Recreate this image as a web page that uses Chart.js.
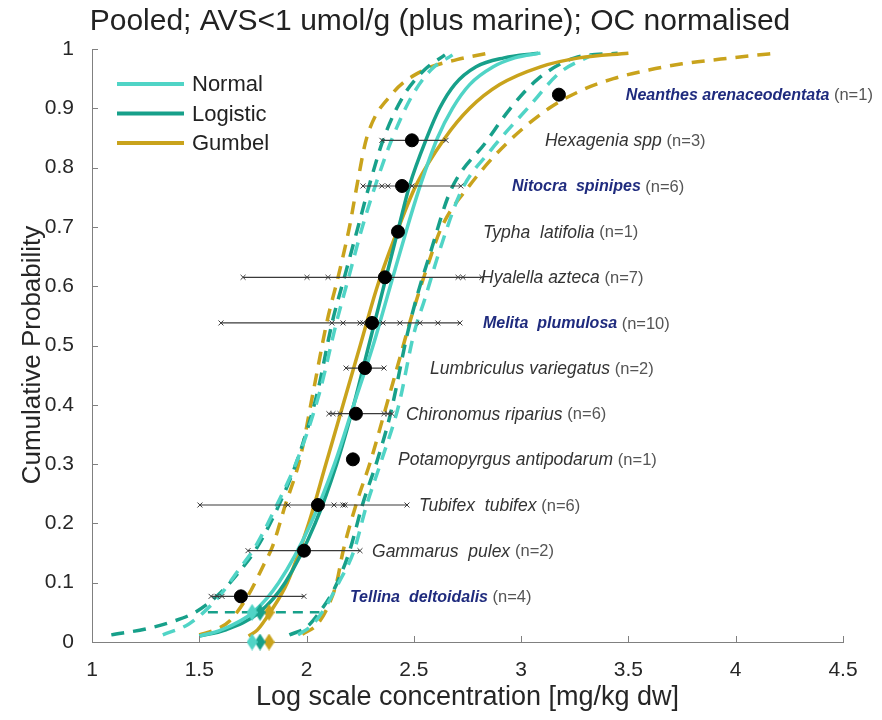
<!DOCTYPE html>
<html>
<head>
<meta charset="utf-8">
<title>SSD pooled AVS</title>
<script src="https://cdn.jsdelivr.net/npm/chart.js@4.4.1/dist/chart.umd.min.js"></script>
<style>
  html, body { margin: 0; padding: 0; background: #fff; }
  #wrap { width: 882px; height: 720px; }
</style>
</head>
<body>
<div id="wrap"><canvas id="ssd" width="882" height="720"></canvas></div>
<script>
// Species, ranked by geometric mean toxicity (log10 mg/kg dw, OC normalised)
const speciesNames = ['Tellina  deltoidalis', 'Gammarus  pulex', 'Tubifex  tubifex', 'Potamopyrgus antipodarum',
  'Chironomus riparius', 'Lumbriculus variegatus', 'Melita  plumulosa', 'Hyalella azteca', 'Typha  latifolia',
  'Nitocra  spinipes', 'Hexagenia spp', 'Neanthes arenaceodentata'];
const speciesCounts = [4, 2, 6, 1, 6, 2, 10, 7, 1, 6, 3, 1];
const speciesMarine = [true, false, false, false, false, false, true, false, false, true, false, true];
const speciesMeans = [1.694, 1.988, 2.053, 2.216, 2.230, 2.272, 2.305, 2.365, 2.426, 2.445, 2.491, 3.176];
const speciesRanks = [0.077, 0.154, 0.231, 0.308, 0.385, 0.462, 0.538, 0.615, 0.692, 0.769, 0.846, 0.923];
// individual test results per species
const speciesTests = [
  [1.555, 1.583, 1.606, 1.988],
  [1.727, 2.249],
  [1.503, 1.913, 2.128, 2.170, 2.179, 2.468],
  [2.216],
  [2.104, 2.123, 2.156, 2.361, 2.379, 2.398],
  [2.184, 2.361],
  [1.601, 2.118, 2.170, 2.249, 2.263, 2.356, 2.435, 2.528, 2.612, 2.715],
  [1.704, 2.002, 2.100, 2.389, 2.706, 2.729, 2.817],
  [2.426],
  [2.263, 2.351, 2.379, 2.459, 2.491, 2.719],
  [2.351, 2.482, 2.650],
  [3.176]
];

// fitted distributions: concentration at each cumulative probability
const fitProbs = [0.01, 0.02, 0.05, 0.1, 0.2, 0.3, 0.4, 0.5, 0.6, 0.7, 0.77, 0.85, 0.9, 0.94, 0.97, 0.985, 0.993];
const normalFit = [1.50, 1.60, 1.75, 1.87, 2.02, 2.13, 2.22, 2.31, 2.39, 2.47, 2.53, 2.61, 2.68, 2.76, 2.87, 2.97, 3.09];
const logisticFit = [1.50, 1.62, 1.78, 1.90, 2.04, 2.14, 2.22, 2.29, 2.36, 2.43, 2.48, 2.56, 2.62, 2.69, 2.79, 2.92, 3.08];
const gumbelFit = [1.73, 1.77, 1.83, 1.91, 2.01, 2.09, 2.17, 2.25, 2.33, 2.43, 2.51, 2.645, 2.76, 2.90, 3.09, 3.27, 3.50];

// confidence bands as [concentration, probability]
const normalLower = [[1.33, 0.012], [1.45, 0.03], [1.52, 0.05], [1.60, 0.08], [1.68, 0.12], [1.76, 0.16], [1.86, 0.23],
  [1.96, 0.31], [2.06, 0.42], [2.14, 0.54], [2.20, 0.62], [2.26, 0.70], [2.33, 0.78], [2.40, 0.85], [2.49, 0.92],
  [2.58, 0.965], [2.68, 0.99]];
const normalUpper = [[1.96, 0.012], [2.03, 0.03], [2.09, 0.06], [2.15, 0.10], [2.22, 0.153], [2.28, 0.231], [2.35, 0.307],
  [2.43, 0.40], [2.50, 0.52], [2.55, 0.577], [2.62, 0.66], [2.72, 0.76], [2.86, 0.83], [3.03, 0.90], [3.18, 0.96],
  [3.33, 0.99]];
const logisticLower = [[1.09, 0.012], [1.25, 0.022], [1.38, 0.035], [1.48, 0.05], [1.59, 0.08], [1.69, 0.12], [1.77, 0.16],
  [1.87, 0.23], [1.96, 0.31], [2.05, 0.42], [2.12, 0.54], [2.18, 0.62], [2.24, 0.70], [2.30, 0.78], [2.36, 0.85],
  [2.45, 0.92], [2.55, 0.965], [2.645, 0.99]];
const logisticUpper = [[1.92, 0.012], [2.00, 0.025], [2.06, 0.05], [2.13, 0.09], [2.20, 0.153], [2.26, 0.231], [2.33, 0.307],
  [2.39, 0.383], [2.47, 0.52], [2.51, 0.577], [2.58, 0.66], [2.67, 0.76], [2.84, 0.845], [2.95, 0.90], [3.08, 0.95],
  [3.25, 0.985], [3.45, 0.993]];
const gumbelLower = [[1.50, 0.012], [1.57, 0.02], [1.64, 0.035], [1.73, 0.08], [1.80, 0.13], [1.84, 0.16], [1.90, 0.23],
  [1.97, 0.31], [2.03, 0.42], [2.095, 0.54], [2.15, 0.62], [2.20, 0.70], [2.24, 0.78], [2.28, 0.85], [2.40, 0.925],
  [2.55, 0.965], [2.70, 0.982], [2.845, 0.993]];
const gumbelUpper = [[1.98, 0.013], [2.05, 0.03], [2.10, 0.06], [2.14, 0.10], [2.17, 0.153], [2.23, 0.231], [2.30, 0.307],
  [2.36, 0.383], [2.42, 0.46], [2.49, 0.55], [2.56, 0.63], [2.63, 0.70], [2.76, 0.77], [2.93, 0.84], [3.13, 0.90],
  [3.28, 0.93], [3.43, 0.95], [3.60, 0.965], [3.75, 0.975], [3.93, 0.983], [4.08, 0.989], [4.19, 0.993]];

// HC5 estimates (normal, logistic, gumbel) and the span of the 5% line
const hc5 = [1.746, 1.783, 1.825];
const hc5Span = [1.54, 2.06];

const distNames = ['Normal', 'Logistic', 'Gumbel'];
const colNormal = '#50d4c6';
const colLogistic = '#17a08a';
const colGumbel = '#c9a31c';
const distColors = [colNormal, colLogistic, colGumbel];

// label anchors (x in axis units)
const labelAt = [2.202, 2.305, 2.524, 2.426, 2.463, 2.575, 2.822, 2.813, 2.822, 2.957, 3.111, 3.488];

const FONT = '"Liberation Sans", Arial, Helvetica, sans-serif';

function fitLine(xs, color) {
  return {
    data: xs.map((x, i) => ({ x: x, y: fitProbs[i] })),
    showLine: true, borderColor: color, borderWidth: 3.5, pointRadius: 0,
    cubicInterpolationMode: 'monotone', order: 4
  };
}

function bandLine(pairs, color) {
  return {
    data: pairs.map(p => ({ x: p[0], y: p[1] })),
    showLine: true, borderColor: color, borderWidth: 3.5, borderDash: [13, 9], pointRadius: 0,
    cubicInterpolationMode: 'monotone', order: 5
  };
}

function diamond(color) {
  const c = document.createElement('canvas');
  c.width = 11; c.height = 17;
  const g = c.getContext('2d');
  g.fillStyle = color;
  g.beginPath();
  g.moveTo(5.5, 0); g.lineTo(11, 8.5); g.lineTo(5.5, 17); g.lineTo(0, 8.5);
  g.closePath();
  g.fill();
  return c;
}

// 1 -> "1", 1.5 -> "1.5", 0.30000000004 -> "0.3"
const tickText = v => String(Math.round(v * 10) / 10);

const datasets = [];

// dots for species geometric means
datasets.push({
  data: speciesMeans.map((x, i) => ({ x: x, y: speciesRanks[i] })),
  pointRadius: 6.5, pointBackgroundColor: '#000', pointBorderColor: '#000', showLine: false, order: 1
});

// HC5 diamonds on the 5% line and on the axis
hc5.forEach((x, i) => {
  datasets.push({
    data: [{ x: x, y: 0.05 }, { x: x, y: 0 }],
    pointStyle: diamond(distColors[i]), showLine: false, clip: false, order: 0
  });
});

// whiskers with individual test results
speciesTests.forEach((vals, i) => {
  if (vals.length < 2) return;
  datasets.push({
    data: vals.map(v => ({ x: v, y: speciesRanks[i] })),
    showLine: true, borderColor: '#3a3a3a', borderWidth: 1.2,
    pointStyle: 'crossRot', pointRadius: 3.5, pointBorderColor: '#3a3a3a', pointBorderWidth: 1,
    order: 2
  });
});

datasets.push(fitLine(normalFit, colNormal));
datasets.push(fitLine(logisticFit, colLogistic));
datasets.push(fitLine(gumbelFit, colGumbel));

datasets.push({
  data: [{ x: hc5Span[0], y: 0.05 }, { x: hc5Span[1], y: 0.05 }],
  showLine: true, borderColor: colLogistic, borderWidth: 2.5, borderDash: [10, 7], pointRadius: 0, order: 4
});

datasets.push(bandLine(normalLower, colNormal));
datasets.push(bandLine(normalUpper, colNormal));
datasets.push(bandLine(logisticLower, colLogistic));
datasets.push(bandLine(logisticUpper, colLogistic));
datasets.push(bandLine(gumbelLower, colGumbel));
datasets.push(bandLine(gumbelUpper, colGumbel));

// inward ticks, titles, legend and species labels
const decor = {
  id: 'decor',
  beforeDraw(chart) {
    const ctx = chart.ctx;
    ctx.save();
    ctx.fillStyle = '#fff';
    ctx.fillRect(0, 0, chart.width, chart.height);
    ctx.restore();
  },
  afterDraw(chart) {
    const ctx = chart.ctx;
    const xs = chart.scales.x, ys = chart.scales.y;
    const area = chart.chartArea;
    ctx.save();

    ctx.strokeStyle = '#808080';
    ctx.lineWidth = 1;
    ys.ticks.forEach(t => {
      const y = Math.round(ys.getPixelForValue(t.value)) + 0.5;
      ctx.beginPath(); ctx.moveTo(area.left, y); ctx.lineTo(area.left + 6, y); ctx.stroke();
    });
    xs.ticks.forEach(t => {
      const x = Math.round(xs.getPixelForValue(t.value)) + 0.5;
      ctx.beginPath(); ctx.moveTo(x, area.bottom); ctx.lineTo(x, area.bottom - 6); ctx.stroke();
    });

    ctx.fillStyle = '#222';
    ctx.font = '30px ' + FONT;
    ctx.textAlign = 'center';
    ctx.textBaseline = 'middle';
    ctx.fillText('Pooled; AVS<1 umol/g (plus marine); OC normalised', 440, 22);

    // y axis title
    ctx.save();
    ctx.translate(33, 355);
    ctx.rotate(-Math.PI / 2);
    ctx.font = '26px ' + FONT;
    ctx.fillStyle = '#262626';
    ctx.fillText('Cumulative Probability', 0, 0);
    ctx.restore();

    ctx.textAlign = 'left';
    ctx.font = '22px ' + FONT;
    distNames.forEach((name, i) => {
      const y = 84 + i * 29.5;
      ctx.strokeStyle = distColors[i];
      ctx.lineWidth = 4;
      ctx.beginPath(); ctx.moveTo(117, y); ctx.lineTo(184, y); ctx.stroke();
      ctx.fillStyle = '#222';
      ctx.fillText(name, 192, y + 1);
    });

    speciesNames.forEach((name, i) => {
      const x = xs.getPixelForValue(labelAt[i]);
      const y = ys.getPixelForValue(speciesRanks[i]) + 1;
      ctx.font = (speciesMarine[i] ? 'italic bold 16px ' : 'italic 17.5px ') + FONT;
      ctx.fillStyle = speciesMarine[i] ? '#1f2b7e' : '#333';
      ctx.fillText(name, x, y);
      const w = ctx.measureText(name + ' ').width;
      ctx.font = '16.5px ' + FONT;
      ctx.fillStyle = '#555';
      ctx.fillText('(n=' + speciesCounts[i] + ')', x + w, y);
    });
    ctx.restore();
  }
};

new Chart(document.getElementById('ssd'), {
  type: 'scatter',
  data: { datasets: datasets },
  options: {
    responsive: false,
    devicePixelRatio: 1,
    animation: false,
    events: [],
    layout: { padding: { top: 49, right: 39, bottom: 0, left: 0 } },
    plugins: {
      legend: { display: false },
      tooltip: { enabled: false },
      title: { display: false }
    },
    scales: {
      x: {
        type: 'linear', min: 1, max: 4.5,
        afterFit: s => { s.height = 78; },
        grid: { display: false },
        border: { display: true, color: '#808080', width: 1 },
        ticks: { stepSize: 0.5, color: '#262626', padding: 8, font: { family: FONT, size: 21 }, callback: tickText },
        title: {
          display: true, text: 'Log scale concentration [mg/kg dw]', color: '#262626',
          font: { family: FONT, size: 27 }, padding: { top: 0, bottom: 6 }
        }
      },
      y: {
        type: 'linear', min: 0, max: 1,
        afterFit: s => { s.width = 92; },
        grid: { display: false },
        border: { display: true, color: '#808080', width: 1 },
        ticks: { stepSize: 0.1, color: '#262626', padding: 10, font: { family: FONT, size: 21 }, callback: tickText },
        title: { display: false }
      }
    }
  },
  plugins: [decor]
});
</script>
</body>
</html>
